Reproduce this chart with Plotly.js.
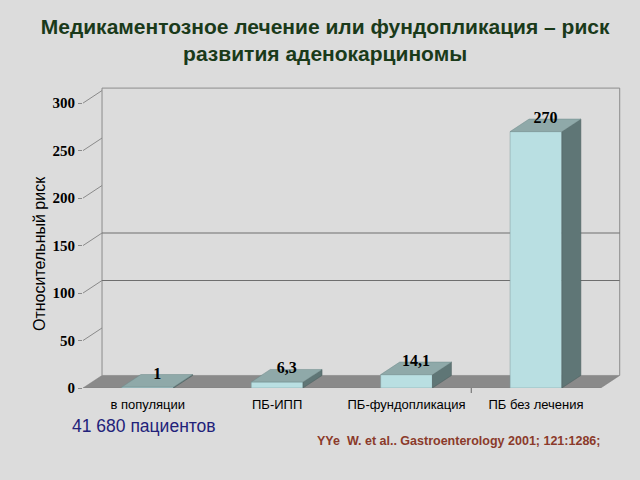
<!DOCTYPE html>
<html><head><meta charset="utf-8">
<script src="https://cdn.plot.ly/plotly-3.0.1.min.js"></script>
<style>html,body{margin:0;padding:0;background:#dcdcdc}</style>
</head><body><div id="chart" style="width:640px;height:480px"></div>
<script>
const categories = ['в популяции', 'ПБ-ИПП', 'ПБ-фундопликация', 'ПБ без лечения'];
const riskValues = [1, 6.3, 14.1, 270];
const valueLabels = ['1', '6,3', '14,1', '270'];
const yTickVals = [0, 50, 100, 150, 200, 250, 300];
const wallGridVals = [100, 150];
const titleText = 'Медикаментозное лечение или фундопликация – риск<br>развития аденокарциномы';
const yAxisTitle = 'Относительный риск';
const patientsNote = '41 680 пациентов';
const citation = 'YYe  W. et al.. Gastroenterology 2001; 121:1286;';

// 3D geometry / styling (not data)
const BAR_W = 0.4, DX = 0.147, DY = 13.2, YTOP = 315.8;
const X0 = -0.5, X1 = categories.length - 0.5;
const M = {l: 83, r: 19, t: 86, b: 92};
const W = 640 - M.l - M.r, H = 480 - M.t - M.b;
const px2x = p => (p - M.l) / W;
const px2y = p => (480 - M.b - p) / H;

const xIdx = categories.map((c, i) => i);
const traces = [];

// front faces
traces.push({
  type: 'bar', x: xIdx, y: riskValues, width: BAR_W,
  marker: {color: '#b9dfe2', line: {color: '#7f9a9c', width: 0.5}},
  hoverinfo: 'skip', showlegend: false
});

// side and top faces
riskValues.forEach((v, i) => {
  const xl = i - BAR_W / 2, xr = i + BAR_W / 2;
  traces.push({
    type: 'scatter', mode: 'lines', fill: 'toself', fillcolor: '#5f7676',
    x: [xr, xr + DX, xr + DX, xr, xr], y: [0, DY, v + DY, v, 0],
    line: {color: '#4c5f5f', width: 0.5}, hoverinfo: 'skip', showlegend: false
  });
  traces.push({
    type: 'scatter', mode: 'lines', fill: 'toself', fillcolor: '#8fa9a9',
    x: [xl, xr, xr + DX, xl + DX, xl], y: [v, v, v + DY, v + DY, v],
    line: {color: '#6f8a8a', width: 0.5}, hoverinfo: 'skip', showlegend: false
  });
});

// value labels
traces.push({
  type: 'scatter', mode: 'text', x: xIdx.map(i => i + DX / 2), y: riskValues.map(v => v + DY),
  text: valueLabels, textposition: 'middle center', cliponaxis: false,
  textfont: {family: 'Liberation Serif', size: 16, color: '#000', weight: 'bold'},
  hoverinfo: 'skip', showlegend: false
});

// diagonal tick connectors to back wall
const dx = [], dy = [];
yTickVals.filter(v => v > 0).forEach(v => { dx.push(X0, X0 + DX, null); dy.push(v, v + DY, null); });
traces.push({
  type: 'scatter', mode: 'lines', x: dx, y: dy, line: {color: '#8a8a8a', width: 1},
  hoverinfo: 'skip', showlegend: false
});

const shapes = [];
// floor
shapes.push({
  type: 'path', xref: 'x', yref: 'y', layer: 'below',
  path: `M ${X0},0 L ${X1},0 L ${X1 + DX},${DY} L ${X0 + DX},${DY} Z`,
  fillcolor: '#8a8a8a', line: {color: '#7a7a7a', width: 0.5}
});
// back wall outline
shapes.push({
  type: 'path', xref: 'x', yref: 'y', layer: 'below',
  path: `M ${X0 + DX},${DY} L ${X0 + DX},${YTOP} L ${X1 + DX},${YTOP} L ${X1 + DX},${DY}`,
  line: {color: '#8c8c8c', width: 1}
});
// back wall gridlines
wallGridVals.forEach(g => shapes.push({
  type: 'line', xref: 'x', yref: 'y', layer: 'below',
  x0: X0 + DX, x1: X1 + DX, y0: g + DY, y1: g + DY,
  line: {color: '#6e6e6e', width: 1}
}));
// small category divider tick
shapes.push({
  type: 'line', xref: 'x', yref: 'paper', x0: 2.5, x1: 2.5, y0: 0, y1: -5 / H,
  line: {color: '#666', width: 1}
});

const layout = {
  width: 640, height: 480, margin: M,
  paper_bgcolor: '#dcdcdc', plot_bgcolor: '#dcdcdc',
  showlegend: false, bargap: 0,
  title: {
    text: titleText, xref: 'container', yref: 'container', x: 0.508, y: 1 - 33.5 / 480,
    xanchor: 'center', yanchor: 'middle',
    font: {family: 'Liberation Sans', size: 21, color: '#1a3a1a', weight: 'bold'}
  },
  xaxis: {
    range: [X0, X1 + DX + 0.01], tickvals: xIdx, ticktext: categories,
    showgrid: false, zeroline: false, showline: false, ticks: '', ticklabelstandoff: 7,
    tickfont: {family: 'Liberation Sans', size: 13, color: '#000'}, fixedrange: true
  },
  yaxis: {
    range: [0, 318], tickvals: yTickVals, ticktext: yTickVals.map(String),
    showgrid: false, zeroline: false, showline: false, ticks: 'outside', ticklen: 4, tickcolor: '#8a8a8a',
    tickfont: {family: 'Liberation Serif', size: 15, color: '#000', weight: 'bold'},
    fixedrange: true
  },
  shapes: shapes,
  annotations: [
    {text: yAxisTitle, xref: 'paper', yref: 'paper', x: px2x(39), y: px2y(254),
     xanchor: 'center', yanchor: 'middle', textangle: -90, showarrow: false,
     font: {family: 'Liberation Sans', size: 16, color: '#000'}},
    {text: patientsNote, xref: 'paper', yref: 'paper', x: px2x(70), y: px2y(426),
     xanchor: 'left', yanchor: 'middle', showarrow: false,
     font: {family: 'Liberation Sans', size: 17.5, color: '#22227a'}},
    {text: citation, xref: 'paper', yref: 'paper', x: px2x(315), y: px2y(441),
     xanchor: 'left', yanchor: 'middle', showarrow: false,
     font: {family: 'Liberation Sans', size: 12.5, color: '#8b3a2a', weight: 'bold'}}
  ]
};

Plotly.newPlot('chart', traces, layout, {displayModeBar: false, staticPlot: true});
</script></body></html>
